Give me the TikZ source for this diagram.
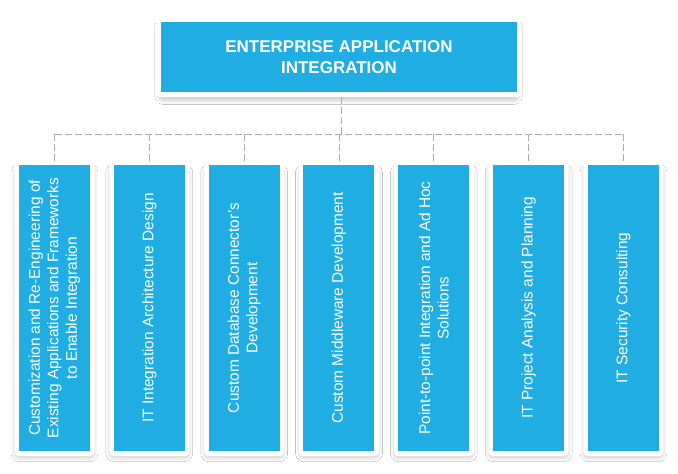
\documentclass[tikz,border=0pt]{standalone}
\usepackage{fontspec}
\setmainfont{Liberation Sans}
\usetikzlibrary{shadows.blur}
\definecolor{eaiblue}{RGB}{31,173,226}
\definecolor{dashgray}{RGB}{170,170,170}
\begin{document}
\begin{tikzpicture}[x=1pt,y=-1pt,
  card/.style={fill=white, rounded corners=4pt, draw=none, inner sep=0pt,
    blur shadow={shadow xshift=0pt, shadow yshift=-4pt, shadow scale=0.985, shadow blur radius=4pt, shadow opacity=22, shadow blur steps=14}},
  topblue/.style={fill=eaiblue, inner sep=0pt, text=white, align=center,
    font=\bfseries\fontsize{17}{21}\selectfont, minimum width=356pt, minimum height=70pt},
  childcard/.style={card, minimum width=80pt, minimum height=294pt},
  childblue/.style={fill=eaiblue, inner sep=0pt, minimum width=71pt, minimum height=286pt},
  childtext/.style={font=\fontsize{15.4}{18.5}\selectfont, rotate=90, align=center, text=white, inner sep=0pt},
  conn/.style={draw=dashgray, line width=0.8pt, dash pattern=on 7pt off 3pt}]
\useasboundingbox[fill=white] (0,0) rectangle (678,474);

% top
\node[card, minimum width=365pt, minimum height=79pt] (topcard) at (338.5,57.5) {};
\node[topblue] (top) at (339,57) {ENTERPRISE APPLICATION\\INTEGRATION};

% children cards
\node[childcard] (k1) at (54.5,309) {};
\node[childcard] (k2) at (149.33,309) {};
\node[childcard] (k3) at (244.16,309) {};
\node[childcard] (k4) at (338.99,309) {};
\node[childcard] (k5) at (433.82,309) {};
\node[childcard] (k6) at (528.65,309) {};
\node[childcard] (k7) at (623.48,309) {};

\node[childblue] (b1) at (54.5,308) {};
\node[childblue] (b2) at (149.33,308) {};
\node[childblue] (b3) at (244.16,308) {};
\node[childblue] (b4) at (338.99,308) {};
\node[childblue] (b5) at (433.82,308) {};
\node[childblue] (b6) at (528.65,308) {};
\node[childblue] (b7) at (623.48,308) {};

\node[childtext] (t1) at (b1.center) {Customization and Re-Engineering of\\Existing Applications and Frameworks\\to Enable Integration};
\node[childtext] (t2) at (b2.center) {IT Integration Architecture Design};
\node[childtext] (t3) at (b3.center) {Custom Database Connector's\\Development};
\node[childtext] (t4) at (b4.center) {Custom Middleware Development};
\node[childtext] (t5) at (b5.center) {Point-to-point Integration and Ad Hoc\\Solutions};
\node[childtext] (t6) at (b6.center) {IT Project Analysis and Planning};
\node[childtext] (t7) at (b7.center) {IT Security Consulting};

% connectors
\coordinate (bus) at (341,134);
\draw[conn] (topcard.south -| bus) -- (bus);
\draw[conn] (k1.north |- bus) -- (k7.north |- bus);
\foreach \k in {k1,k2,k3,k4,k5,k6,k7}
  \draw[conn] (\k.north |- bus) -- (\k.north);
\end{tikzpicture}
\end{document}
